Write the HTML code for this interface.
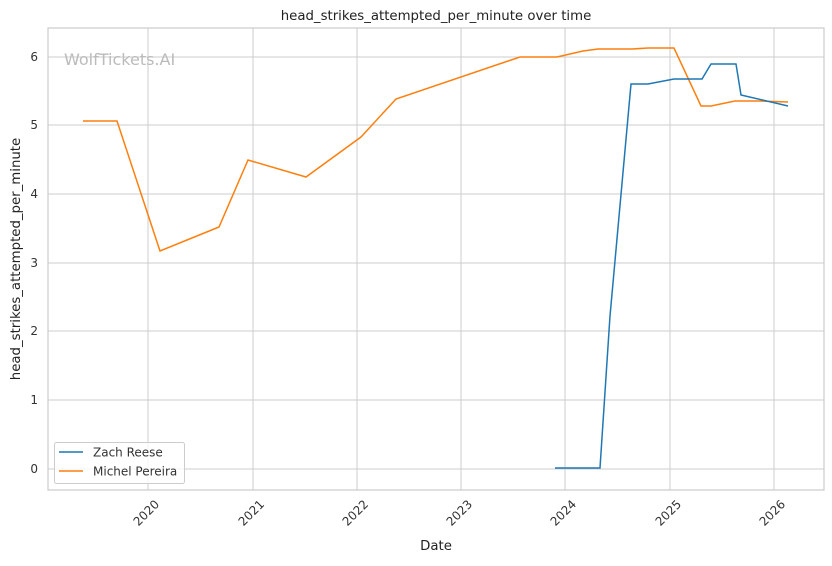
<!DOCTYPE html>
<html><head><style>body{margin:0;background:#fff}</style></head><body>
<svg width="832" height="561" xmlns="http://www.w3.org/2000/svg" font-family="DejaVu Sans, Liberation Sans, sans-serif">
<rect width="832" height="561" fill="#fff"/>
<g stroke="#cccccc" stroke-width="1">
<line x1="148" y1="28" x2="148" y2="490"/><line x1="253" y1="28" x2="253" y2="490"/>
<line x1="357" y1="28" x2="357" y2="490"/><line x1="461" y1="28" x2="461" y2="490"/>
<line x1="565" y1="28" x2="565" y2="490"/><line x1="670" y1="28" x2="670" y2="490"/>
<line x1="774" y1="28" x2="774" y2="490"/>
<line x1="48" y1="469" x2="824" y2="469"/><line x1="48" y1="400" x2="824" y2="400"/>
<line x1="48" y1="331" x2="824" y2="331"/><line x1="48" y1="263" x2="824" y2="263"/>
<line x1="48" y1="194" x2="824" y2="194"/><line x1="48" y1="125" x2="824" y2="125"/>
<line x1="48" y1="57" x2="824" y2="57"/>
</g>
<rect x="48" y="28" width="776" height="462" fill="none" stroke="#cccccc" stroke-width="1.2"/>
<text x="64" y="65" font-size="16" fill="#bbbbbb">WolfTickets.AI</text>
<text x="436" y="20" font-size="13.3" text-anchor="middle" fill="#222">head_strikes_attempted_per_minute over time</text>
<g font-size="12" fill="#333" text-anchor="end">
<text x="38" y="473">0</text><text x="38" y="404">1</text><text x="38" y="335">2</text>
<text x="38" y="267">3</text><text x="38" y="198">4</text><text x="38" y="129">5</text><text x="38" y="61">6</text>
</g>
<g font-size="12" fill="#333" text-anchor="end">
<text transform="translate(160,505) rotate(-45)">2020</text>
<text transform="translate(265,505) rotate(-45)">2021</text>
<text transform="translate(369,505) rotate(-45)">2022</text>
<text transform="translate(473,505) rotate(-45)">2023</text>
<text transform="translate(577,505) rotate(-45)">2024</text>
<text transform="translate(682,505) rotate(-45)">2025</text>
<text transform="translate(786,505) rotate(-45)">2026</text>
</g>
<text x="436" y="550" font-size="13.3" text-anchor="middle" fill="#222">Date</text>
<text transform="translate(20,259) rotate(-90)" font-size="13.3" text-anchor="middle" fill="#222">head_strikes_attempted_per_minute</text>
<polyline fill="none" stroke="#ff7f0e" stroke-width="1.5" points="83,121 117,121 160,251 219,227 248,160 306,177 361,137 396,99 520,57 557,57 583,51 598,49 632,49 648,48 674,48 701,106 711,106 735,101 760,101 788,102"/>
<polyline fill="none" stroke="#1f77b4" stroke-width="1.5" points="555,468 600,468 610,316 631,84 648,84 674,79 702,79 711,64 736,64 741,95 788,106"/>
<rect x="54.5" y="442.5" width="130" height="41" rx="2" fill="#fff" fill-opacity="0.8" stroke="#cccccc"/>
<line x1="59" y1="452" x2="83" y2="452" stroke="#1f77b4" stroke-width="1.5"/>
<line x1="59" y1="471" x2="83" y2="471" stroke="#ff7f0e" stroke-width="1.5"/>
<text x="93" y="456.5" font-size="12" fill="#333">Zach Reese</text>
<text x="93" y="475.5" font-size="12" fill="#333">Michel Pereira</text>
</svg>
</body></html>
